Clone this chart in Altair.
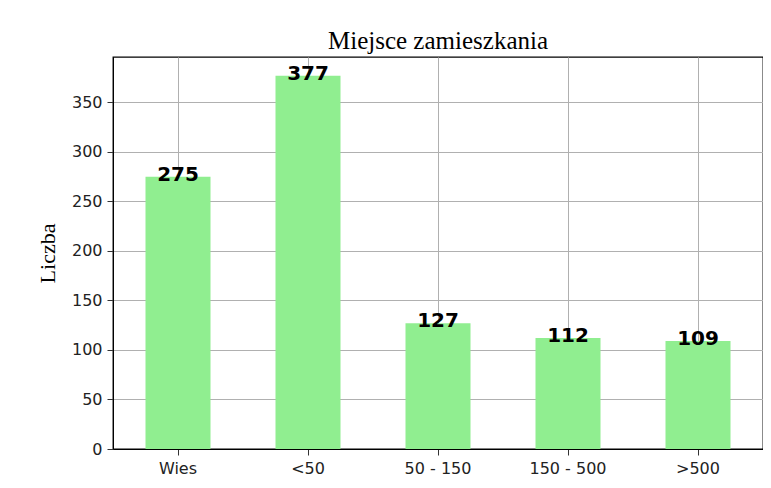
import altair as alt
import pandas as pd

categories = ["Wies", "<50", "50 - 150", "150 - 500", ">500"]
counts = [275, 377, 127, 112, 109]
title_text = "Miejsce zamieszkania"
y_title = "Liczba"

df = pd.DataFrame({"kategoria": categories, "liczba": counts})

x = alt.X("kategoria:N", sort=categories, title=None,
          scale=alt.Scale(paddingInner=0.5, paddingOuter=0.25),
          axis=alt.Axis(labelAngle=0, bandPosition=0.5, grid=True))
y = alt.Y("liczba:Q", title=y_title,
          scale=alt.Scale(domain=[0, 395.85], nice=False),
          axis=alt.Axis(values=[0, 50, 100, 150, 200, 250, 300, 350], grid=True))

bars = alt.Chart(df).mark_bar(color="#90EE90").encode(x=x, y=y)
labels = alt.Chart(df).mark_text(
    font="DejaVu Sans", fontSize=20, fontWeight="bold", color="black",
    baseline="middle", dy=-2
).encode(x=alt.X("kategoria:N", sort=categories), y="liczba:Q", text="liczba:Q")

chart = alt.layer(bars, labels).properties(
    width=650, height=392,
    title=alt.Title(title_text, font="Liberation Serif", fontSize=25,
                    fontWeight="normal", color="black", offset=3),
    autosize=alt.AutoSizeParams(type="none"),
    padding={"left": 105, "top": 49, "right": 0, "bottom": 30},
).configure_view(stroke="black", strokeWidth=1.3).configure_axis(
    labelFont="DejaVu Sans", labelFontSize=16, labelColor="#222222",
    titleFont="Liberation Serif", titleFontSize=22, titleFontWeight="normal",
    titleColor="black", gridColor="#b0b0b0", gridWidth=1,
    domainColor="black", tickColor="#333333", tickSize=6, labelPadding=5
).configure_axisY(titlePadding=12)

chart.save("out.html", embed_options={"renderer": "svg", "actions": False})
